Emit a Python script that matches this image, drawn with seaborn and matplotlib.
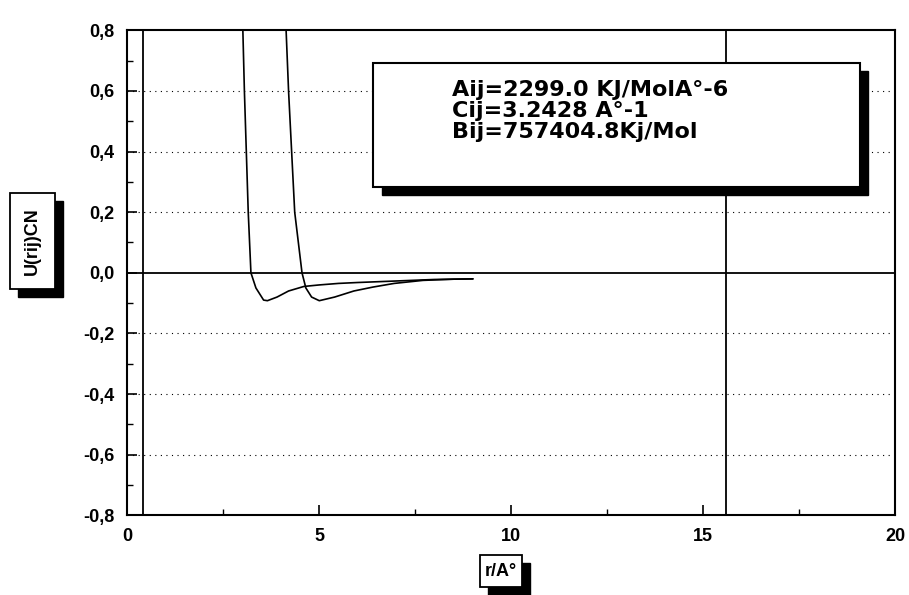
import pandas as pd
import matplotlib.pyplot as plt
import seaborn as sns
from matplotlib.patches import Rectangle

# values
r_curve1 = [3.0, 3.05, 3.1, 3.15, 3.22, 3.35, 3.55, 3.65, 3.9, 4.2, 4.6, 5.0, 5.5, 6.0, 7.0, 8.0, 9.0]
u_curve1 = [0.85, 0.6, 0.4, 0.2, 0.0, -0.05, -0.09, -0.092, -0.08, -0.06, -0.045, -0.04, -0.035, -0.032, -0.027, -0.022, -0.02]

r_curve2 = [4.12, 4.2, 4.28, 4.36, 4.55, 4.65, 4.8, 5.0, 5.4, 5.9, 6.4, 6.95, 7.7, 8.5, 9.0]
u_curve2 = [0.85, 0.6, 0.4, 0.2, 0.0, -0.05, -0.08, -0.092, -0.08, -0.06, -0.047, -0.035, -0.025, -0.021, -0.02]

x_ticks = [0, 5, 10, 15, 20]
y_ticks = [-0.8, -0.6, -0.4, -0.2, 0.0, 0.2, 0.4, 0.6, 0.8]
y_tick_labels = ["-0,8", "-0,6", "-0,4", "-0,2", "0,0", "0,2", "0,4", "0,6", "0,8"]
grid_levels = [-0.6, -0.4, -0.2, 0.2, 0.4, 0.6]
frame_lines = [0.4, 15.6]

info_lines = ["Aij=2299.0 KJ/MolA°-6", "Cij=3.2428 A°-1", "Bij=757404.8Kj/Mol"]

df = pd.concat([
    pd.DataFrame({"r": r_curve1, "U": u_curve1, "curve": "1"}),
    pd.DataFrame({"r": r_curve2, "U": u_curve2, "curve": "2"}),
])

sns.set_style("ticks")
plt.rcParams['font.family'] = ['Liberation Sans', 'DejaVu Sans']
plt.rcParams.update({"text.color": "black", "xtick.color": "black", "ytick.color": "black",
                     "axes.edgecolor": "black", "xtick.labelcolor": "black",
                     "ytick.labelcolor": "black"})

W, H = 909, 595
fig = plt.figure(figsize=(W / 100, H / 100), dpi=100)
ax = fig.add_axes([0.14, 0.134, 0.845, 0.815])

sns.lineplot(data=df, x="r", y="U", units="curve", estimator=None, sort=False,
             color="black", linewidth=1.2, ax=ax)

# dotted grid and the solid zero line
for g in grid_levels:
    ax.axhline(g, color="black", linestyle=(0, (1, 4)), linewidth=0.8)
ax.axhline(0, color="black", linewidth=1.3)
for v in frame_lines:
    ax.axvline(v, color="black", linewidth=1.3)

ax.set_xlim(0, 20)
ax.set_ylim(-0.8, 0.8)
ax.set_xticks(x_ticks)
ax.set_xticks([2.5, 7.5, 12.5, 17.5], minor=True)
ax.set_yticks(y_ticks)
ax.set_yticklabels(y_tick_labels)
ax.set_yticks([-0.7, -0.5, -0.3, -0.1, 0.1, 0.3, 0.5, 0.7], minor=True)
ax.tick_params(axis="both", which="major", direction="in", length=7, width=1.2,
               labelsize=13, pad=9)
ax.tick_params(axis="both", which="minor", direction="in", length=4, width=1)
for lab in ax.get_xticklabels() + ax.get_yticklabels():
    lab.set_fontweight("bold")
for sp in ax.spines.values():
    sp.set_linewidth(1.5)
ax.set_xlabel("")
ax.set_ylabel("")

# parameter box with drop shadow
ax.add_patch(Rectangle((0.331, 0.66), 0.634, 0.256, transform=ax.transAxes,
                       facecolor="black", edgecolor="black", zorder=4))
ax.add_patch(Rectangle((0.32, 0.676), 0.634, 0.256, transform=ax.transAxes,
                       facecolor="white", edgecolor="black", linewidth=1.5, zorder=5))
ax.text(0.423, 0.897, "\n".join(info_lines), transform=ax.transAxes, fontsize=16,
        fontweight="bold", family=["DejaVu Sans"], va="top", ha="left",
        multialignment="left", linespacing=1.05, zorder=6)


def boxed_label(x0, y0, w, h, text, rotation=0):
    # pixel coords from the top-left corner, shadow 8 px down/right
    fx, fy, fw, fh = x0 / W, 1 - (y0 + h) / H, w / W, h / H
    fig.add_artist(Rectangle((fx + 8 / W, fy - 8 / H), fw, fh, transform=fig.transFigure,
                             facecolor="black", edgecolor="black", zorder=1))
    fig.add_artist(Rectangle((fx, fy), fw, fh, transform=fig.transFigure,
                             facecolor="white", edgecolor="black", linewidth=1.3, zorder=2))
    fig.text(fx + fw / 2, fy + fh / 2, text, rotation=rotation, fontsize=13,
             fontweight="bold", ha="center", va="center", zorder=3)


boxed_label(10, 193, 45, 96, "U(rij)CN", rotation=90)
boxed_label(480, 555, 42, 32, "r/A°")

fig.savefig("out.png", dpi=100)
